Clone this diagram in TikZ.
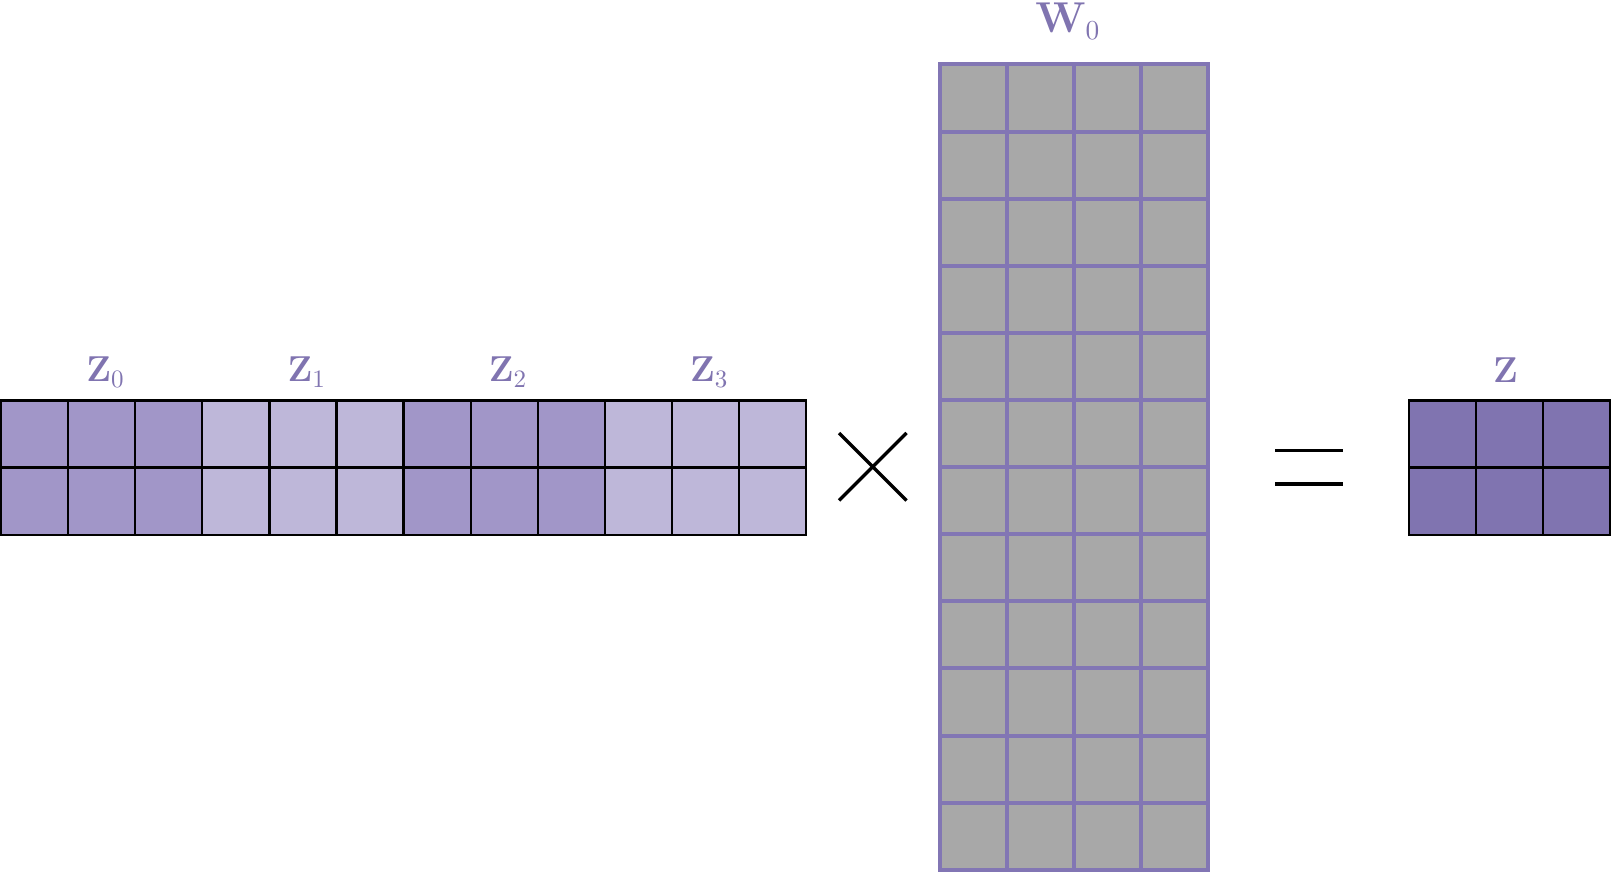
\documentclass[tikz,border=0pt]{standalone}
\definecolor{zdark}{HTML}{8074B0}
\definecolor{zmid}{HTML}{A196C8}
\definecolor{zlight}{HTML}{BEB7D9}
\definecolor{wgray}{HTML}{A8A8A8}
\definecolor{wline}{HTML}{8276B4}
\definecolor{lbl}{HTML}{8074B0}
\tikzset{
  blackgrid/.style={draw=black, line width=0.9pt, line cap=rect},
  purplegrid/.style={draw=wline, line width=1.6pt, line cap=rect},
  opline/.style={draw=black, line width=1.3pt},
  mlabel/.style={text=lbl, anchor=base, inner sep=0pt, font=\fontsize{14.6}{17}\selectfont},
  wlabel/.style={text=lbl, anchor=base, inner sep=0pt, font=\fontsize{16}{19}\selectfont},
}
\begin{document}
\begin{tikzpicture}[x=0.4pt,y=-0.4pt]
\useasboundingbox (0,0) rectangle (1612,872);
\def\cs{67.1}
% ---- left matrix Z0..Z3 ----
\foreach \b/\col in {0/zmid,1/zlight,2/zmid,3/zlight}
  \fill[\col] ({1+3*\b*\cs},400.5) rectangle ({1+(3*\b+3)*\cs},{400.5+2*\cs});
\foreach \i in {0,...,12}
  \draw[blackgrid] ({1+\i*\cs},400.5) -- ({1+\i*\cs},{400.5+2*\cs});
\foreach \j in {0,1,2}
  \draw[blackgrid] (1,{400.5+\j*\cs}) -- ({1+12*\cs},{400.5+\j*\cs});
% ---- W0 matrix ----
\fill[wgray] (939.5,64.5) rectangle ({939.5+4*\cs},{64.5+12*\cs});
\foreach \i in {0,...,4}
  \draw[purplegrid] ({939.5+\i*\cs},64.5) -- ({939.5+\i*\cs},{64.5+12*\cs});
\foreach \j in {0,...,12}
  \draw[purplegrid] (939.5,{64.5+\j*\cs}) -- ({939.5+4*\cs},{64.5+\j*\cs});
% ---- Z matrix ----
\fill[zdark] (1409,400.5) rectangle ({1409+3*\cs},{400.5+2*\cs});
\foreach \i in {0,...,3}
  \draw[blackgrid] ({1409+\i*\cs},400.5) -- ({1409+\i*\cs},{400.5+2*\cs});
\foreach \j in {0,1,2}
  \draw[blackgrid] (1409,{400.5+\j*\cs}) -- ({1409+3*\cs},{400.5+\j*\cs});
% ---- operators ----
\coordinate (t1) at (839,433);
\coordinate (t2) at (906.5,500.5);
\coordinate (t3) at (839,500.5);
\coordinate (t4) at (906.5,433);
\draw[opline] (t1) -- (t2);
\draw[opline] (t3) -- (t4);
\coordinate (e1) at (1275,450.7);
\coordinate (e2) at (1343,450.7);
\coordinate (e3) at (1275,484);
\coordinate (e4) at (1343,484);
\draw[opline] (e1) -- (e2);
\draw[opline] (e3) -- (e4);
% ---- labels ----
\node[mlabel] (lz0) at (105.5,381.7) {$\mathbf{Z}_0$};
\node[mlabel] (lz1) at (306.8,381.7) {$\mathbf{Z}_1$};
\node[mlabel] (lz2) at (508.1,381.7) {$\mathbf{Z}_2$};
\node[mlabel] (lz3) at (709.4,381.7) {$\mathbf{Z}_3$};
\node[wlabel] (lw0) at (1068,32.7) {$\mathbf{W}_0$};
\node[mlabel] (lz) at (1505.5,383) {$\mathbf{Z}$};
\end{tikzpicture}
\end{document}
